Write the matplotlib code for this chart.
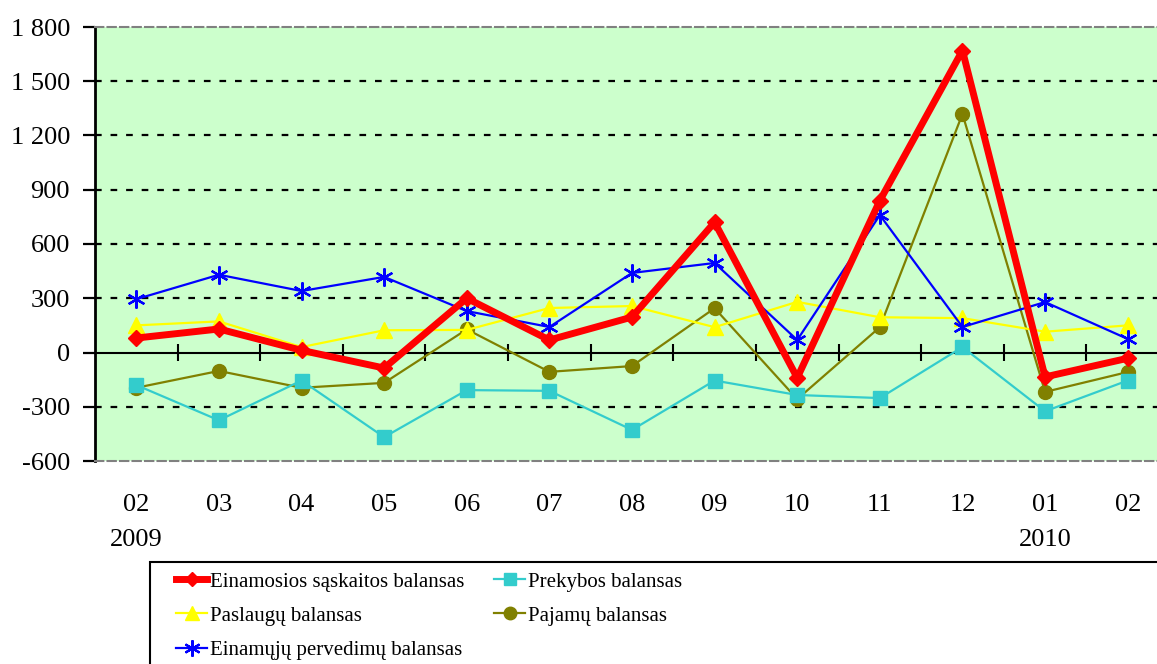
import matplotlib.pyplot as plt
from matplotlib.patches import Rectangle
from matplotlib.ticker import FuncFormatter

months = ["02", "03", "04", "05", "06", "07", "08", "09", "10", "11", "12", "01", "02"]
years = {0: "2009", 11: "2010"}

einamosios = [80, 130, 12, -86, 300, 69, 196, 720, -140, 840, 1670, -135, -32]
prekybos = [-180, -375, -155, -468, -208, -212, -428, -155, -235, -252, 30, -325, -155]
paslaugu = [150, 172, 30, 123, 125, 246, 257, 140, 280, 195, 190, 115, 150]
pajamu = [-195, -102, -195, -168, 128, -107, -75, 245, -258, 140, 1319, -218, -108]
pervedimu = [295, 430, 340, 418, 229, 141, 440, 495, 69, 760, 141, 279, 75]

W, H = 1157, 664
plt.rcParams["font.family"] = ["Liberation Serif", "DejaVu Serif"]

fig = plt.figure(figsize=(W / 100, H / 100), dpi=100)
# plot area runs past the right edge of the picture, as in the reference
ax = fig.add_axes([95 / W, (H - 461) / H, (1169 - 95) / W, (461 - 27) / H])
ax.set_facecolor("#CCFFCC")

x = list(range(len(months)))

ax.plot(x, pajamu, color="#808000", lw=1.6, marker="o", ms=10, zorder=3,
        label="Pajamų balansas")
ax.plot(x, prekybos, color="#33CCCC", lw=1.6, marker="s", ms=10, zorder=3,
        label="Prekybos balansas")
ax.plot(x, paslaugu, color="#FFFF00", lw=1.6, marker="^", ms=11, zorder=3,
        label="Paslaugų balansas")
ax.plot(x, pervedimu, color="#0000FF", lw=1.6, marker=(6, 2, 0), ms=13, mew=1.6,
        zorder=4, label="Einamųjų pervedimų balansas")
ax.plot(x, einamosios, color="#FF0000", lw=5, marker="D", ms=8, zorder=5,
        label="Einamosios sąskaitos balansas")

ax.set_xlim(-0.5, len(months) - 0.5)
ax.set_ylim(-600, 1800)
ax.set_yticks(range(-600, 1801, 300))
ax.yaxis.set_major_formatter(FuncFormatter(lambda v, p: f"{int(v):,}".replace(",", " ")))
for v in range(-300, 1800, 300):
    if v != 0:
        ax.axhline(v, color="black", lw=1.6, ls=(0, (3, 4)), zorder=1)

# zero axis with category ticks
ax.axhline(0, color="black", lw=1.5, zorder=2)
ax.vlines([i + 0.5 for i in x[:-1]], -45, 45, color="black", lw=1.5, zorder=2)

labels = [m + ("\n" + years[i] if i in years else "") for i, m in enumerate(months)]
ax.set_xticks(x)
ax.set_xticklabels(labels, fontsize=19, linespacing=1.75, va="top")
ax.tick_params(axis="x", length=0, pad=24)
ax.tick_params(axis="y", labelsize=19, direction="out", length=9, width=1.6, pad=9)

ax.spines["right"].set_visible(False)
ax.spines["left"].set_linewidth(2)
for s in ("top", "bottom"):
    ax.spines[s].set_color("#808080")
    ax.spines[s].set_linewidth(1.5)
    ax.spines[s].set_linestyle((0, (4, 2)))

# legend box
fig.patches.append(Rectangle((150 / W, -0.02), 1.1, (H - 562) / H + 0.02,
                             transform=fig.transFigure, facecolor="white",
                             edgecolor="black", lw=1.5))
h, l = ax.get_legend_handles_labels()
order = ["Einamosios sąskaitos balansas", "Paslaugų balansas",
         "Einamųjų pervedimų balansas", "Prekybos balansas", "Pajamų balansas"]
hs = [h[l.index(o)] for o in order]
fig.legend(hs, order, loc="upper left", bbox_to_anchor=(176 / W, (H - 572) / H),
           ncol=2, frameon=False, fontsize=15, borderpad=0, borderaxespad=0,
           handlelength=1.5, handletextpad=0.15, labelspacing=0.7,
           columnspacing=1.4, markerscale=0.9)

fig.savefig("out.png", dpi=100)
